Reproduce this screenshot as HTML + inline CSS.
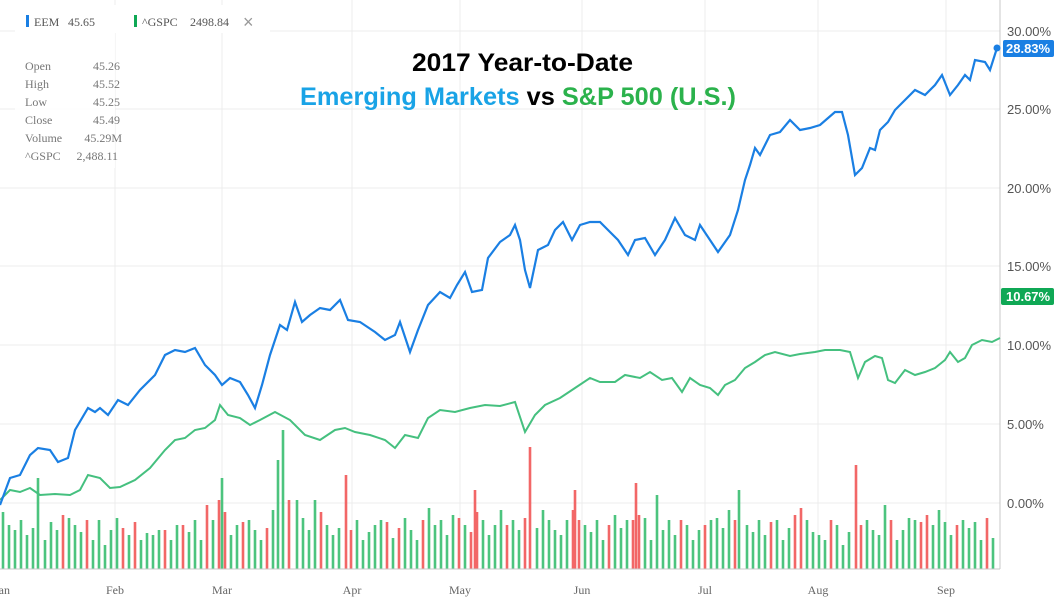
<!DOCTYPE html><html><head><meta charset="utf-8"><style>
body{margin:0;background:#fff;width:1055px;height:602px;overflow:hidden;font-family:"Liberation Sans",sans-serif}
</style></head><body>
<svg width="1055" height="602" xmlns="http://www.w3.org/2000/svg" font-family="Liberation Sans, sans-serif">
<g stroke="#ececec" stroke-width="1">
<line x1="0" y1="31" x2="1000" y2="31"/><line x1="0" y1="109" x2="1000" y2="109"/><line x1="0" y1="188" x2="1000" y2="188"/><line x1="0" y1="266" x2="1000" y2="266"/><line x1="0" y1="345" x2="1000" y2="345"/><line x1="0" y1="424" x2="1000" y2="424"/><line x1="0" y1="503" x2="1000" y2="503"/>
<line x1="115" y1="0" x2="115" y2="569"/><line x1="222" y1="0" x2="222" y2="569"/><line x1="352" y1="0" x2="352" y2="569"/><line x1="460" y1="0" x2="460" y2="569"/><line x1="582" y1="0" x2="582" y2="569"/><line x1="705" y1="0" x2="705" y2="569"/><line x1="818" y1="0" x2="818" y2="569"/><line x1="946" y1="0" x2="946" y2="569"/>
</g>
<path stroke="#4cc47e" stroke-width="2.6" fill="none" d="M3,569V512 M9,569V525 M15,569V530 M21,569V520 M27,569V535 M33,569V528 M38,569V478 M45,569V540 M51,569V522 M57,569V530 M69,569V518 M75,569V525 M81,569V532 M93,569V540 M99,569V520 M105,569V545 M111,569V530 M117,569V518 M129,569V535 M141,569V540 M147,569V533 M153,569V535 M159,569V530 M171,569V540 M177,569V525 M189,569V532 M195,569V520 M201,569V540 M213,569V520 M222,569V478 M231,569V535 M237,569V525 M249,569V520 M255,569V530 M261,569V540 M273,569V510 M278,569V460 M283,569V430 M297,569V500 M303,569V518 M309,569V530 M315,569V500 M327,569V525 M333,569V535 M339,569V528 M357,569V520 M363,569V540 M369,569V532 M375,569V525 M381,569V520 M393,569V538 M405,569V518 M411,569V530 M417,569V540 M429,569V508 M435,569V525 M441,569V520 M447,569V535 M453,569V515 M465,569V525 M483,569V520 M489,569V535 M495,569V525 M501,569V510 M513,569V520 M519,569V530 M537,569V528 M543,569V510 M549,569V520 M555,569V530 M561,569V535 M567,569V520 M585,569V525 M591,569V532 M597,569V520 M603,569V540 M615,569V515 M621,569V528 M627,569V520 M645,569V518 M651,569V540 M657,569V495 M663,569V530 M669,569V520 M675,569V535 M687,569V525 M693,569V540 M699,569V530 M711,569V520 M717,569V518 M723,569V528 M729,569V510 M739,569V490 M747,569V525 M753,569V532 M759,569V520 M765,569V535 M777,569V520 M783,569V540 M789,569V528 M807,569V520 M813,569V532 M819,569V535 M825,569V540 M837,569V525 M843,569V545 M849,569V532 M867,569V520 M873,569V530 M879,569V535 M885,569V505 M897,569V540 M903,569V530 M909,569V518 M915,569V520 M933,569V525 M939,569V510 M945,569V522 M951,569V535 M963,569V520 M969,569V528 M975,569V522 M981,569V540 M993,569V538"/>
<path stroke="#f26767" stroke-width="2.6" fill="none" d="M63,569V515 M87,569V520 M123,569V528 M135,569V522 M165,569V530 M183,569V525 M207,569V505 M219,569V500 M225,569V512 M243,569V522 M267,569V528 M289,569V500 M321,569V512 M346,569V475 M351,569V530 M387,569V522 M399,569V528 M423,569V520 M459,569V518 M471,569V532 M475,569V490 M477,569V512 M507,569V525 M525,569V518 M530,569V447 M573,569V510 M575,569V490 M579,569V520 M609,569V525 M633,569V520 M636,569V483 M639,569V515 M681,569V520 M705,569V525 M735,569V520 M771,569V522 M795,569V515 M801,569V508 M831,569V520 M856,569V465 M861,569V525 M891,569V520 M921,569V522 M927,569V515 M957,569V525 M987,569V518"/>
<line x1="1000" y1="0" x2="1000" y2="569" stroke="#c8c8c8"/>
<line x1="0" y1="569" x2="1000" y2="569" stroke="#c8c8c8"/>
<g font-size="13" fill="#555"><text x="1007" y="36">30.00%</text><text x="1007" y="114">25.00%</text><text x="1007" y="193">20.00%</text><text x="1007" y="271">15.00%</text><text x="1007" y="350">10.00%</text><text x="1007" y="429">5.00%</text><text x="1007" y="508">0.00%</text></g>
<g font-size="12" fill="#666" font-family="Liberation Serif, serif" text-anchor="middle"><text x="2" y="594">Jan</text><text x="115" y="594">Feb</text><text x="222" y="594">Mar</text><text x="352" y="594">Apr</text><text x="460" y="594">May</text><text x="582" y="594">Jun</text><text x="705" y="594">Jul</text><text x="818" y="594">Aug</text><text x="946" y="594">Sep</text></g>
<polyline fill="none" stroke="#45c07f" stroke-width="2" points="0,500 10,490 20,492 30,488 40,495 55,494 70,495 80,490 88,475 100,478 110,488 120,487 135,480 150,468 165,450 175,440 185,438 195,430 205,428 215,420 220,405 228,415 240,418 250,425 260,420 275,412 290,420 305,435 320,440 335,430 345,428 355,432 370,435 385,440 395,448 405,435 418,438 428,418 440,410 455,412 470,408 485,405 500,406 515,402 525,432 535,415 545,405 560,398 575,388 590,378 600,382 615,382 625,375 640,378 650,372 662,380 672,378 682,392 690,378 700,385 710,388 718,395 725,385 735,380 745,368 755,362 765,355 775,352 790,356 800,354 815,352 825,350 840,350 850,352 858,378 865,362 875,356 882,358 888,380 895,383 905,370 915,375 925,372 935,368 945,360 950,352 958,362 965,358 972,345 982,340 992,342 1000,338"/>
<polyline fill="none" stroke="#1a7fe3" stroke-width="2.2" points="0,505 10,478 20,475 30,455 38,448 50,450 58,462 68,458 75,430 88,408 95,412 100,408 108,415 118,400 128,405 140,390 155,375 165,355 175,350 185,352 195,348 205,365 215,375 222,385 230,378 240,382 248,395 255,408 262,385 270,355 280,325 287,330 295,302 302,322 310,315 320,308 330,310 340,300 348,320 360,322 375,332 385,340 395,335 400,322 410,352 418,330 428,305 440,292 450,298 457,285 465,272 472,292 482,290 488,258 500,242 510,235 515,225 520,240 525,270 530,288 538,250 548,245 555,230 563,222 572,240 580,225 590,222 600,222 610,232 618,240 628,255 635,240 645,238 655,255 665,240 675,218 685,235 695,240 700,225 710,240 718,252 730,235 738,210 745,180 750,165 755,148 760,155 770,135 780,132 790,120 800,130 810,128 820,125 835,112 842,112 848,135 855,175 862,168 870,148 875,150 880,130 888,122 895,110 905,100 915,90 925,95 935,85 942,75 950,95 958,85 965,75 970,80 975,60 985,62 990,70 997,48"/>
<rect x="1001" y="288" width="53" height="17" rx="2" fill="#0fa855"/><text x="1006" y="301" font-size="13" fill="#fff" font-weight="bold">10.67%</text>
<circle cx="997" cy="48" r="3.5" fill="#1a7fe3"/>
<rect x="1003" y="40" width="51" height="17" rx="2" fill="#1a7fe3"/><text x="1006" y="53" font-size="13" fill="#fff" font-weight="bold">28.83%</text>
<rect x="15" y="30" width="100" height="138" fill="#fff" opacity="0.9"/>
<rect x="15" y="5" width="255" height="28" fill="#fff"/>
<g font-family="Liberation Serif, serif" font-size="12" fill="#555">
<rect x="26" y="15" width="3" height="12" fill="#1a7fe3"/><text x="34" y="26">EEM</text><text x="68" y="26">45.65</text>
<rect x="134" y="15" width="3" height="12" fill="#0fa855"/><text x="142" y="26">^GSPC</text><text x="190" y="26">2498.84</text>
<text x="243" y="28" font-size="18" fill="#999" font-family="Liberation Sans">×</text>
<g fill="#777"><text x="25" y="70">Open</text><text x="25" y="88">High</text><text x="25" y="106">Low</text><text x="25" y="124">Close</text><text x="25" y="142">Volume</text><text x="25" y="160">^GSPC</text>
<g text-anchor="end"><text x="120" y="70">45.26</text><text x="120" y="88">45.52</text><text x="120" y="106">45.25</text><text x="120" y="124">45.49</text><text x="122" y="142">45.29M</text><text x="118" y="160">2,488.11</text></g></g></g>
<g font-weight="bold" font-size="25"><text x="412" y="71" textLength="221" lengthAdjust="spacingAndGlyphs">2017 Year-to-Date</text>
<text x="300" y="105" textLength="436" lengthAdjust="spacingAndGlyphs"><tspan fill="#19a3e6">Emerging Markets</tspan> <tspan fill="#000">vs</tspan> <tspan fill="#2bb24c">S&amp;P 500 (U.S.)</tspan></text></g>
</svg>
</body></html>
